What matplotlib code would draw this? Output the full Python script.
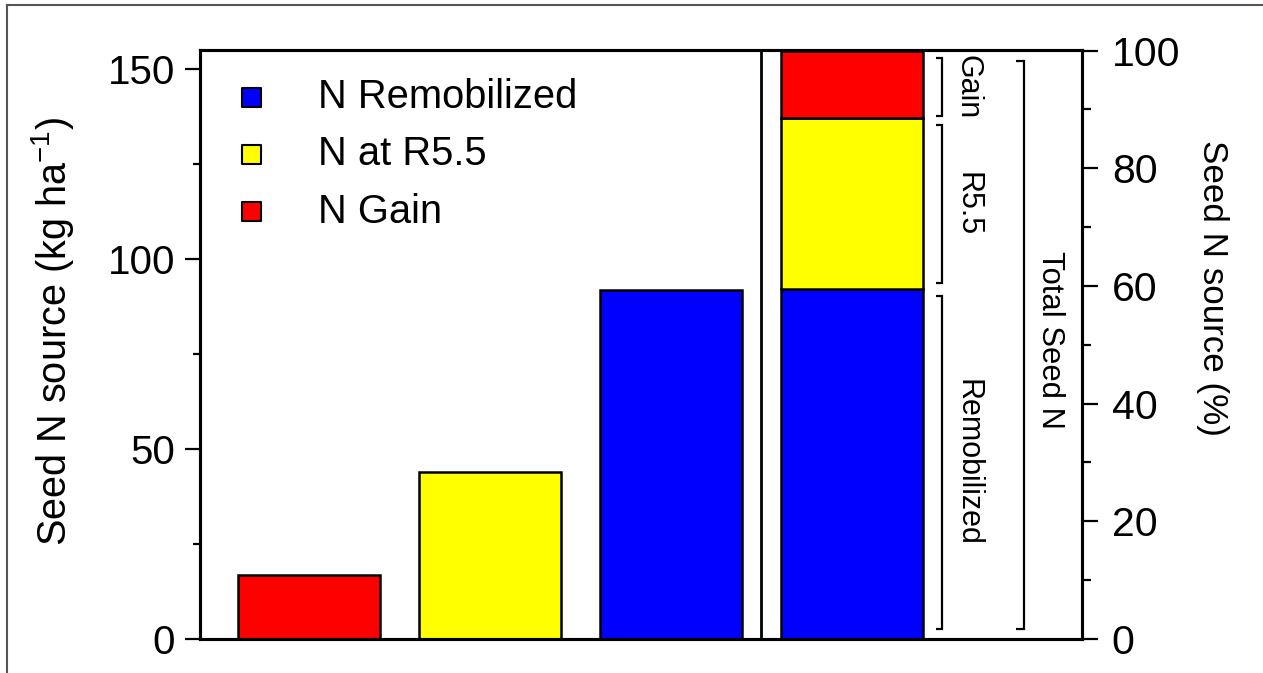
import matplotlib
matplotlib.use("Agg")
import matplotlib.pyplot as plt
from matplotlib.lines import Line2D
from matplotlib.ticker import FixedLocator

plt.rcParams['font.family'] = ['Liberation Sans', 'DejaVu Sans']
plt.rcParams['mathtext.fontset'] = 'custom'
plt.rcParams['mathtext.rm'] = 'Liberation Sans'
plt.rcParams['mathtext.default'] = 'regular'

# Seed N by source (kg/ha)
source_names = ["N Gain", "N at R5.5", "N Remobilized"]
source_kg = [16.8, 43.9, 91.8]
source_colors = ["#ff0000", "#ffff00", "#0000ff"]

# Share of total seed N (%), stacked bottom to top
stack_names = ["Remobilized", "R5.5", "Gain"]
stack_pct = [59.5, 29.0, 11.5]
stack_colors = ["#0000ff", "#ffff00", "#ff0000"]

legend_names = ["N Remobilized", "N at R5.5", "N Gain"]
legend_colors = ["#0000ff", "#ffff00", "#ff0000"]

left_ticks = [0, 50, 100, 150]
left_minor = [25, 75, 125]
right_ticks = [0, 20, 40, 60, 80, 100]
right_minor = [10, 30, 50, 70, 90]

W, H = 1263, 673
fig = plt.figure(figsize=(W / 100, H / 100), dpi=100)
ax = fig.add_axes([200 / W, 1 - 639 / H, 882 / W, 589 / H])

bar_w = 0.785
ax.bar(range(len(source_kg)), source_kg, width=bar_w, color=source_colors,
       edgecolor='black', linewidth=1.8, zorder=2)
ax.set_xlim(-0.602, 4.271)
ax.set_ylim(0, 155)

ax2 = ax.twinx()
ax2.set_ylim(0, 100.1)
bottom = 0
stack_x = len(source_kg)
for pct, col in zip(stack_pct, stack_colors):
    ax2.bar(stack_x, pct, bottom=bottom, width=bar_w, color=col,
            edgecolor='black', linewidth=1.8, zorder=2)
    bottom += pct

# axis break between the two panels
ax.axvline(2.5, color='black', lw=2.0, zorder=3)

for a in (ax, ax2):
    for s in a.spines.values():
        s.set_linewidth(2.2)
ax.tick_params(axis='x', bottom=False, labelbottom=False)
ax.yaxis.set_major_locator(FixedLocator(left_ticks))
ax.yaxis.set_minor_locator(FixedLocator(left_minor))
ax.tick_params(axis='y', which='major', length=10.8, width=1.6, pad=7, labelsize=29)
ax.tick_params(axis='y', which='minor', length=5, width=1.6)
ax2.yaxis.set_major_locator(FixedLocator(right_ticks))
ax2.yaxis.set_minor_locator(FixedLocator(right_minor))
ax2.tick_params(axis='y', which='major', length=11.5, width=1.6, pad=10, labelsize=29.5)
ax2.tick_params(axis='y', which='minor', length=6.5, width=1.6)

fig.text(53 / W, 1 - 331 / H, 'Seed N source (kg ha$^{-1}$)', rotation=90,
         ha='center', va='center', fontsize=28.5)
fig.text(1212 / W, 1 - 288 / H, 'Seed N source (%)', rotation=270,
         ha='center', va='center', fontsize=25.2)

# legend
leg_y = [0.920, 0.8234, 0.725]
ax.scatter([0.0584] * 3, leg_y, marker='s', s=13.7 ** 2, c=legend_colors,
           edgecolors='black', linewidths=1.5, transform=ax.transAxes, zorder=4)
for y, name in zip(leg_y, legend_names):
    ax.text(0.1338, y, name, transform=ax.transAxes, ha='left', va='center',
            fontsize=28.7)


def bracket(a, x, x_tip, y0, y1):
    a.plot([x_tip, x, x, x_tip], [y0, y0, y1, y1], color='black', lw=1.6,
           solid_joinstyle='miter', solid_capstyle='butt', clip_on=False)


# brackets for each stacked segment
gap_top = 1.2
gap_bot = [1.7, 1.0, 0.4]
seg_lo = 0
for pct, name, gb in zip(stack_pct, stack_names, gap_bot):
    y0 = seg_lo + gb
    y1 = seg_lo + pct - gap_top
    bracket(ax2, 3.496, 3.464, y0, y1)
    ax2.text(3.641, (y0 + y1) / 2, name, rotation=270, ha='center', va='center',
             fontsize=22)
    seg_lo += pct

# bracket for the whole column
bracket(ax2, 3.950, 3.906, 1.7, 98.2)
ax2.text(4.094, 50.8, 'Total Seed N', rotation=270, ha='center', va='center',
         fontsize=22.3)

# frame edges
fig.add_artist(Line2D([7 / W, 7 / W], [0, 1 - 5 / H], transform=fig.transFigure,
                      color='#555555', lw=1.5))
fig.add_artist(Line2D([7 / W, 1], [1 - 5 / H, 1 - 5 / H], transform=fig.transFigure,
                      color='#555555', lw=1.5))

fig.savefig('out.png', dpi=100)
